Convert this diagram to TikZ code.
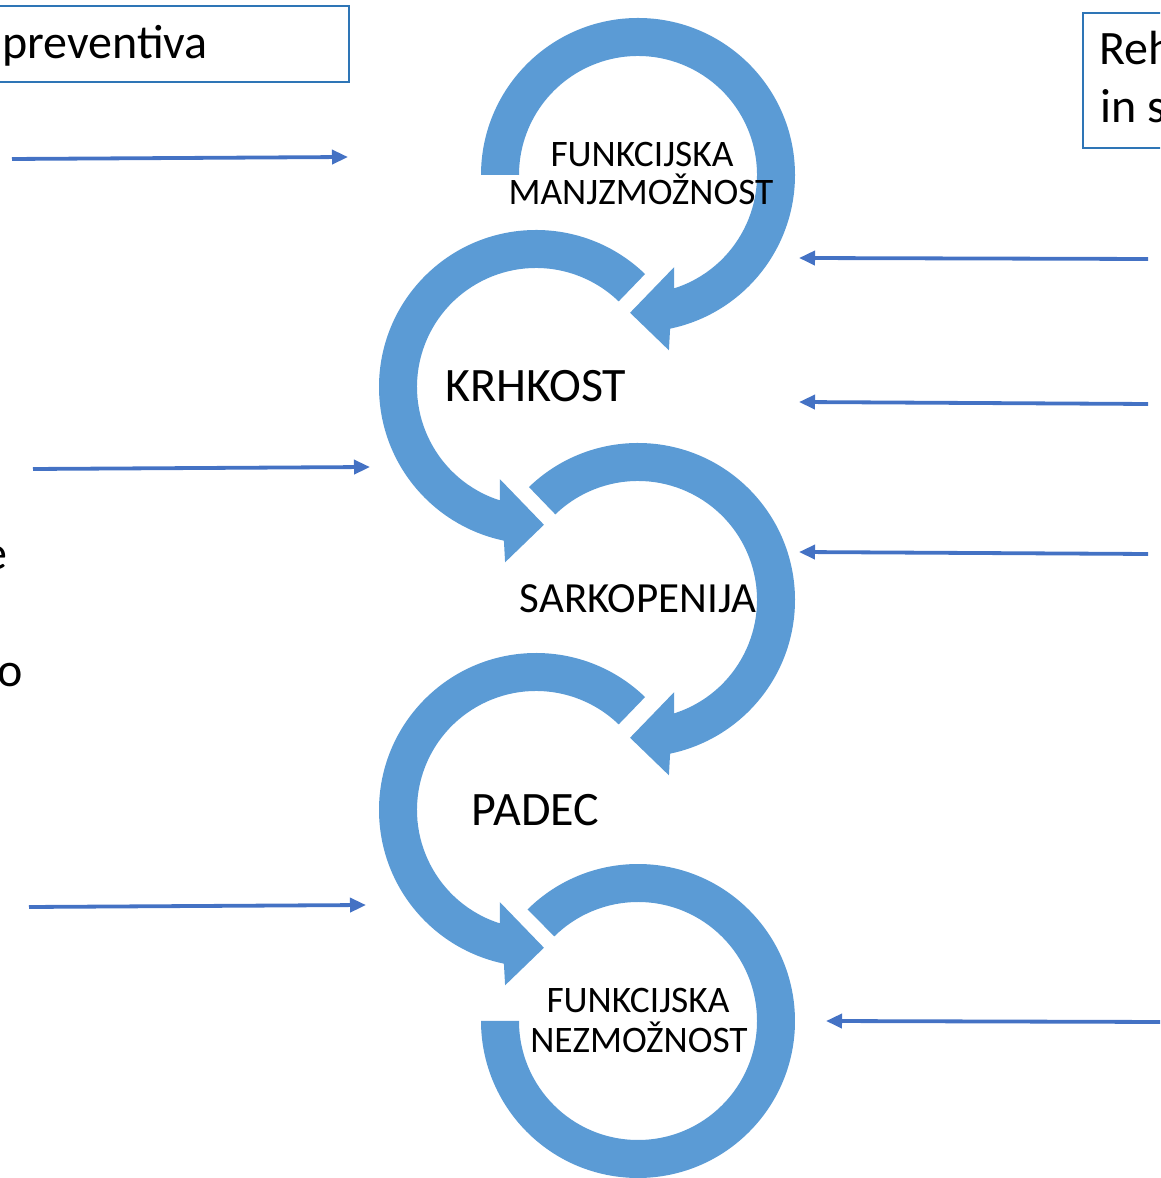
\documentclass[tikz,border=0pt]{standalone}
\usepackage{fontspec}
\setmainfont{Carlito}
\usetikzlibrary{arrows.meta}
\definecolor{ringblue}{HTML}{5B9BD5}
\definecolor{linkblue}{HTML}{4472C4}
\definecolor{frameblue}{HTML}{2E75B6}
\tikzset{
  % ring arrow turning clockwise from angle #1 to a head at the bottom
  pics/ringarrow/.style={code={
    \fill[ringblue] (#1:157) arc[start angle=#1, end angle=-78.2, radius=157]
      -- (-80:178) -- (-93.3:138) -- (-68.6:99) -- (-72.3:119)
      arc[start angle=-72.3, end angle=#1, radius=119] -- cycle;
  }},
  % open ring without a head
  pics/ringopen/.style={code={
    \fill[ringblue] (#1:157) arc[start angle=#1, end angle=-180, radius=157]
      -- (180:119) arc[start angle=-180, end angle=#1, radius=119] -- cycle;
  }},
  label/.style={inner sep=0pt, anchor=base, text=black},
  bigtext/.style={label, font=\fontsize{48}{58}\selectfont},
  midtext/.style={label, font=\fontsize{43}{52}\selectfont},
  smalltext/.style={label, font=\fontsize{37.4}{42}\selectfont},
  flowarrow/.style={draw=linkblue, line width=3.8pt,
    -{Triangle[length=16pt, width=14pt]}},
  infobox/.style={draw=frameblue, line width=2pt, inner sep=0pt, anchor=north west},
}
\begin{document}
\begin{tikzpicture}[x=1pt, y=1pt]
\useasboundingbox (0,0) rectangle (1160,1178);
\clip (0,0) rectangle (1160,1178);

% centres of the five rings
\coordinate (c1) at (638,1003);
\coordinate (c2) at (536,791);
\coordinate (c3) at (638,578);
\coordinate (c4) at (536,368);
\coordinate (c5) at (638,157);

% chain of ring arrows
\pic at (c1) {ringarrow=180};
\pic[xscale=-1] at (c2) {ringarrow=134};
\pic at (c3) {ringarrow=134};
\pic[xscale=-1] at (c4) {ringarrow=134};
\pic at (c5) {ringopen=134.7};

% ring labels
\node[smalltext] (fm1) at (642,1011) {FUNKCIJSKA};
\node[smalltext] (fm2) at (641,973) {MANJZMOŽNOST};
\node[bigtext] (krh) at (536,776) {KRHKOST};
\node[midtext] (sar) at (638,565) {SARKOPENIJA};
\node[bigtext] (pad) at (535.5,352) {PADEC};
\node[smalltext] (fn1) at (638,165) {FUNKCIJSKA};
\node[smalltext] (fn2) at (639,125) {NEZMOŽNOST};

% side boxes
\node[infobox, minimum width=358pt, minimum height=76pt] (lbox) at (-10,1173) {};
\node[bigtext, anchor=base west] (lboxt) at (2,1119) {preventiva};
\node[infobox, minimum width=100pt, minimum height=135pt] (rbox) at (1082,1166) {};
\node[bigtext, anchor=base west] (rboxt1) at (1099,1113) {Reh};
\node[bigtext, anchor=base west] (rboxt2) at (1100,1055) {in s};

% left text fragments
\node[bigtext, anchor=base west] (le) at (-16.5,608) {e};
\node[bigtext, anchor=base west] (lo) at (-2.9,491) {o};

% arrows from the left
\coordinate (l1s) at (12,1019);  \coordinate (l1e) at (348,1021);
\coordinate (l2s) at (33,709);   \coordinate (l2e) at (370,711);
\coordinate (l3s) at (29,271);   \coordinate (l3e) at (366,273);
\draw[flowarrow] (l1s) -- (l1e);
\draw[flowarrow] (l2s) -- (l2e);
\draw[flowarrow] (l3s) -- (l3e);

% arrows from the right
\coordinate (r1s) at (1148,919);  \coordinate (r1e) at (799,920);
\coordinate (r2s) at (1148,774);  \coordinate (r2e) at (799,776);
\coordinate (r3s) at (1148,624);  \coordinate (r3e) at (799,626);
\coordinate (r4s) at (1165,156);  \coordinate (r4e) at (826,157);
\draw[flowarrow] (r1s) -- (r1e);
\draw[flowarrow] (r2s) -- (r2e);
\draw[flowarrow] (r3s) -- (r3e);
\draw[flowarrow] (r4s) -- (r4e);
\end{tikzpicture}
\end{document}
